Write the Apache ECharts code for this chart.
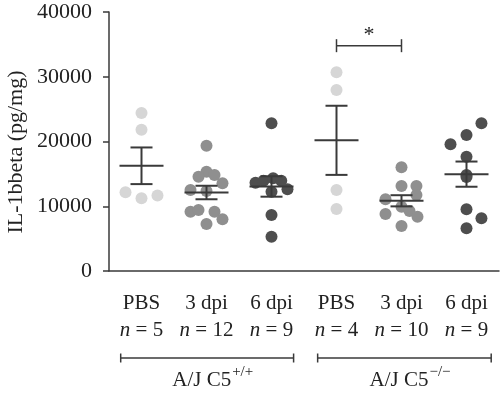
<!DOCTYPE html>
<html>
<head>
<meta charset="utf-8">
<script src="https://cdn.jsdelivr.net/npm/echarts@6/dist/echarts.min.js"></script>
<style>html,body{margin:0;padding:0;background:#fff}#c{width:500px;height:393px}</style>
</head>
<body>
<div id="c"></div>
<script>
// ---- data ----
var categories = ['PBS', '3 dpi', '6 dpi', 'PBS', '3 dpi', '6 dpi'];
var groupN = [5, 12, 9, 4, 10, 9];
var strainLabels = ['A/J C5', 'A/J C5'];
var strainSup = ['+/+', '\u2212/\u2212'];
var yTicks = [0, 10000, 20000, 30000, 40000];
var yTitle = 'IL-1bbeta (pg/mg)';

var pbsWt = [24400, 21800, 12150, 11250, 11650];
var pbsWtJit = [0, 0, -0.246, 0, 0.246];
var dpi3Wt = [19350, 15340, 14560, 14830, 13540, 12510, 12360, 9160, 9420, 9160, 7980, 7260];
var dpi3WtJit = [0, 0, -0.123, 0.123, 0.246, -0.246, 0, -0.246, -0.123, 0.123, 0.246, 0];
var dpi6Wt = [22810, 13640, 13950, 14320, 13950, 12620, 12250, 8650, 5300];
var dpi6WtJit = [0, -0.246, -0.123, 0.025, 0.15, 0.246, 0, 0, 0];
var pbsKo = [30690, 27950, 12510, 9580];
var pbsKoJit = [0, 0, 0, 0];
var dpi3Ko = [16020, 13130, 13130, 11740, 11070, 9930, 9270, 8390, 8800, 6950];
var dpi3KoJit = [0, 0, 0.23, 0.23, -0.246, 0, 0.123, 0.246, -0.246, 0];
var dpi6Ko = [22810, 21000, 19570, 17650, 14830, 14500, 9530, 8140, 6600];
var dpi6KoJit = [0.23, 0, -0.246, 0, 0, 0, 0, 0.23, 0];

var sigPair = [3, 4];
var sigLevel = 34800;

var groups = [pbsWt, dpi3Wt, dpi6Wt, pbsKo, dpi3Ko, dpi6Ko];
var jitters = [pbsWtJit, dpi3WtJit, dpi6WtJit, pbsKoJit, dpi3KoJit, dpi6KoJit];
var colors = ['#d6d6d6', '#8f8f8f', '#4e4e4e', '#d6d6d6', '#8f8f8f', '#4e4e4e'];
var lineColor = '#3a3a3a';
var FONT = 'Liberation Serif';

function meanSem(a) {
  var n = a.length, m = 0, i;
  for (i = 0; i < n; i++) m += a[i];
  m /= n;
  var s = 0;
  for (i = 0; i < n; i++) s += (a[i] - m) * (a[i] - m);
  var sd = Math.sqrt(s / (n - 1));
  return [m, sd / Math.sqrt(n)];
}

var series = [];
groups.forEach(function (g, gi) {
  series.push({
    type: 'scatter',
    xAxisIndex: 1,
    symbolSize: 12,
    itemStyle: { color: colors[gi], opacity: 1 },
    z: 2,
    data: g.map(function (v, k) { return [gi + jitters[gi][k], v]; }),
    silent: true
  });
});

var statData = groups.map(function (g, gi) { var ms = meanSem(g); return [gi, ms[0], ms[1]]; });
series.push({
  type: 'custom',
  xAxisIndex: 1,
  z: 5,
  data: statData,
  renderItem: function (params, api) {
    var x = api.value(0), m = api.value(1), s = api.value(2);
    var pm = api.coord([x, m]);
    var pt = api.coord([x, m + s]);
    var pb = api.coord([x, m - s]);
    var hw = 22, cw = 11;
    var st = { stroke: lineColor, lineWidth: 2, fill: null };
    return { type: 'group', children: [
      { type: 'line', shape: { x1: pm[0] - hw, y1: pm[1], x2: pm[0] + hw, y2: pm[1] }, style: st },
      { type: 'line', shape: { x1: pt[0], y1: pt[1], x2: pb[0], y2: pb[1] }, style: st },
      { type: 'line', shape: { x1: pt[0] - cw, y1: pt[1], x2: pt[0] + cw, y2: pt[1] }, style: st },
      { type: 'line', shape: { x1: pb[0] - cw, y1: pb[1], x2: pb[0] + cw, y2: pb[1] }, style: st }
    ]};
  }
});

// significance bracket
series.push({
  type: 'custom',
  xAxisIndex: 1,
  z: 5,
  clip: false,
  data: [[sigPair[0], sigPair[1], sigLevel]],
  renderItem: function (params, api) {
    var p1 = api.coord([api.value(0), api.value(2)]);
    var p2 = api.coord([api.value(1), api.value(2)]);
    var st = { stroke: lineColor, lineWidth: 1.5, fill: null };
    return { type: 'group', children: [
      { type: 'line', shape: { x1: p1[0], y1: p1[1], x2: p2[0], y2: p2[1] }, style: st },
      { type: 'line', shape: { x1: p1[0], y1: p1[1] - 6.5, x2: p1[0], y2: p1[1] + 6.5 }, style: st },
      { type: 'line', shape: { x1: p2[0], y1: p2[1] - 6.5, x2: p2[0], y2: p2[1] + 6.5 }, style: st },
      { type: 'text', style: { x: (p1[0] + p2[0]) / 2, y: p1[1] - 10, text: '*', font: '22px "' + FONT + '"', fill: '#222', align: 'center', verticalAlign: 'middle' } }
    ]};
  }
});

// strain brackets under axis: [first idx, last idx, label idx, left ext, right ext]
series.push({
  type: 'custom',
  xAxisIndex: 1,
  z: 5,
  clip: false,
  data: [[0, 2, 0, 0.32, 0.34], [3, 5, 1, 0.29, 0.38]],
  renderItem: function (params, api) {
    var a = api.coord([api.value(0) - api.value(3), 0]);
    var b = api.coord([api.value(1) + api.value(4), 0]);
    var y = a[1] + 87;
    var cx = (a[0] + b[0]) / 2;
    var idx = api.value(2);
    var st = { stroke: lineColor, lineWidth: 1.5, fill: null };
    var mainFont = '21px "' + FONT + '"';
    var supFont = '15px "' + FONT + '"';
    return { type: 'group', children: [
      { type: 'line', shape: { x1: a[0], y1: y, x2: b[0], y2: y }, style: st },
      { type: 'line', shape: { x1: a[0], y1: y - 4.5, x2: a[0], y2: y + 4.5 }, style: st },
      { type: 'line', shape: { x1: b[0], y1: y - 4.5, x2: b[0], y2: y + 4.5 }, style: st },
      { type: 'text', style: { x: cx + 24, y: y + 22, text: strainLabels[idx], font: mainFont, fill: '#222', align: 'right', verticalAlign: 'middle' } },
      { type: 'text', style: { x: cx + 25, y: y + 14, text: strainSup[idx], font: supFont, fill: '#222', align: 'left', verticalAlign: 'middle' } }
    ]};
  }
});

var chart = echarts.init(document.getElementById('c'), null, { renderer: 'canvas' });
chart.setOption({
  animation: false,
  backgroundColor: '#fff',
  textStyle: { fontFamily: FONT },
  grid: { left: 109, right: 1, top: 12, bottom: 122, containLabel: false },
  graphic: [{
    type: 'text',
    x: 16, y: 152,
    rotation: Math.PI / 2,
    style: { text: yTitle, font: '22px "' + FONT + '"', fill: '#222', align: 'center', verticalAlign: 'middle' }
  }],
  xAxis: [
    {
      type: 'category',
      data: categories,
      boundaryGap: true,
      axisLine: { onZero: false, lineStyle: { color: lineColor, width: 1.5 } },
      axisTick: { alignWithLabel: true, length: 6, lineStyle: { color: lineColor, width: 1.5 } },
      axisLabel: {
        margin: 19,
        interval: 0,
        color: '#222',
        fontFamily: FONT,
        fontSize: 21,
        lineHeight: 27,
        formatter: function (v, i) { return v + '\n{i|n} = ' + groupN[i]; },
        rich: { i: { fontStyle: 'italic', fontFamily: FONT, fontSize: 21, color: '#222', lineHeight: 27 } }
      },
      splitLine: { show: false }
    },
    { type: 'value', min: -0.5, max: 5.5, show: false, axisLine: { onZero: false } }
  ],
  yAxis: {
    type: 'value',
    min: 0, max: 40000, interval: 10000,
    axisLine: { show: true, onZero: false, lineStyle: { color: lineColor, width: 1.5 } },
    axisTick: { show: true, length: 6, lineStyle: { color: lineColor, width: 1.5 } },
    axisLabel: { color: '#222', fontFamily: FONT, fontSize: 22, margin: 17,
      formatter: function (v) { return yTicks.indexOf(v) >= 0 ? String(v) : ''; } },
    splitLine: { show: false }
  },
  series: series
});
</script>
</body>
</html>
